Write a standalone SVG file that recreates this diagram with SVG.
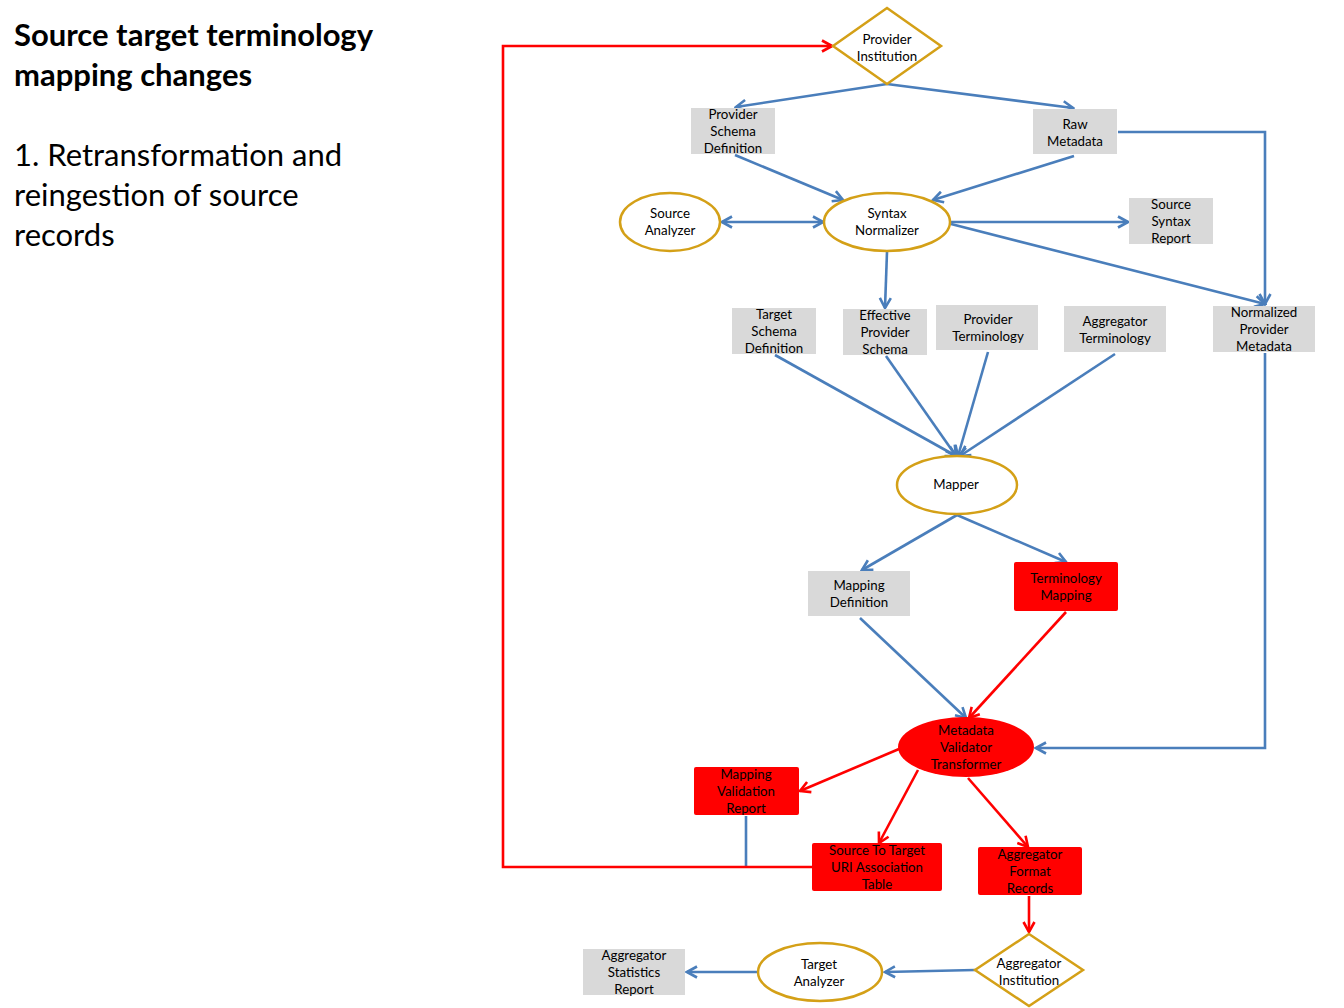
<svg xmlns="http://www.w3.org/2000/svg" width="1344" height="1008" viewBox="0 0 1344 1008">
<defs>
<marker id="ab" viewBox="0 0 14 14" refX="12" refY="7" markerWidth="14" markerHeight="14" markerUnits="userSpaceOnUse" orient="auto-start-reverse">
<path d="M2,1.5 L12,7 L2,12.5" fill="none" stroke="#4A7EBB" stroke-width="2.6"/>
</marker>
<marker id="ar" viewBox="0 0 14 14" refX="12" refY="7" markerWidth="14" markerHeight="14" markerUnits="userSpaceOnUse" orient="auto-start-reverse">
<path d="M2,1.5 L12,7 L2,12.5" fill="none" stroke="#FF0000" stroke-width="2.6"/>
</marker>
</defs>
<style>
.t{font-family:Lato,"Open Sans","Liberation Sans",sans-serif;font-size:13.3px;fill:#000;text-anchor:middle}
.g{fill:#D9D9D9}
.r{fill:#FF0000}
.o{fill:#fff;stroke:#D4A017;stroke-width:2.5}
.b{fill:none;stroke:#4A7EBB;stroke-width:2.6;marker-end:url(#ab)}
.bl{fill:none;stroke:#4A7EBB;stroke-width:2.6}
.rd{fill:none;stroke:#FF0000;stroke-width:2.6;marker-end:url(#ar)}
.h{font-family:Lato,"Open Sans","Liberation Sans",sans-serif;font-size:31px;fill:#000}
</style>
<rect width="1344" height="1008" fill="#fff"/>
<g id="title">
<text class="h" x="14" y="46" font-weight="bold">Source target terminology</text>
<text class="h" x="14" y="86" font-weight="bold">mapping changes</text>
<text class="h" x="14" y="166">1. Retransformation and</text>
<text class="h" x="14" y="206">reingestion of source</text>
<text class="h" x="14" y="246">records</text>
</g>
<g id="connectors">
<line class="b" x1="887" y1="84" x2="736" y2="107"/>
<line class="b" x1="887" y1="84" x2="1073" y2="108"/>
<line class="b" x1="735" y1="155" x2="843" y2="200"/>
<line class="b" x1="1074" y1="156" x2="933" y2="200"/>
<line class="b" x1="722" y1="222" x2="823" y2="222" marker-start="url(#ab)"/>
<line class="b" x1="951" y1="222" x2="1128" y2="222"/>
<line class="b" x1="951" y1="224" x2="1265" y2="304"/>
<polyline class="b" points="1118,132 1265,132 1265,304"/>
<line class="b" x1="887" y1="252" x2="885" y2="308"/>
<line class="b" x1="775" y1="355" x2="956" y2="456"/>
<line class="b" x1="886" y1="356" x2="956" y2="456"/>
<line class="b" x1="988" y1="352" x2="958" y2="456"/>
<line class="b" x1="1115" y1="354" x2="960" y2="456"/>
<line class="b" x1="957" y1="515" x2="862" y2="570"/>
<line class="b" x1="957" y1="515" x2="1066" y2="562"/>
<line class="b" x1="860" y1="618" x2="966" y2="718"/>
<line class="rd" x1="1066" y1="612" x2="969" y2="718"/>
<polyline class="b" points="1265,353 1265,748 1036,748"/>
<line class="rd" x1="899" y1="749" x2="800" y2="791"/>
<line class="rd" x1="918" y1="770" x2="879" y2="843"/>
<line class="rd" x1="968" y1="778" x2="1028" y2="847"/>
<line class="rd" x1="1029" y1="896" x2="1029" y2="932"/>
<line class="b" x1="975" y1="970" x2="885" y2="972"/>
<line class="b" x1="758" y1="972" x2="687" y2="972"/>
<line class="bl" x1="746" y1="816" x2="746" y2="867"/>
<polyline class="rd" points="812,867 503,867 503,46 832,46"/>
</g>
<g id="provider-institution">
<polygon class="o" points="887,8 941,46 887,84 833,46"/>
<text class="t" x="887" y="44">Provider</text>
<text class="t" x="887" y="61">Institution</text>
</g>
<g id="provider-schema-definition">
<rect class="g" x="691" y="108" width="84" height="46"/>
<text class="t" x="733" y="119">Provider</text>
<text class="t" x="733" y="136">Schema</text>
<text class="t" x="733" y="153">Definition</text>
</g>
<g id="raw-metadata">
<rect class="g" x="1033" y="109" width="84" height="45"/>
<text class="t" x="1075" y="129">Raw</text>
<text class="t" x="1075" y="146">Metadata</text>
</g>
<g id="source-analyzer">
<ellipse class="o" cx="670" cy="222" rx="50" ry="29"/>
<text class="t" x="670" y="218">Source</text>
<text class="t" x="670" y="235">Analyzer</text>
</g>
<g id="syntax-normalizer">
<ellipse class="o" cx="887" cy="222" rx="63" ry="29"/>
<text class="t" x="887" y="218">Syntax</text>
<text class="t" x="887" y="235">Normalizer</text>
</g>
<g id="source-syntax-report">
<rect class="g" x="1129" y="198" width="84" height="46"/>
<text class="t" x="1171" y="209">Source</text>
<text class="t" x="1171" y="226">Syntax</text>
<text class="t" x="1171" y="243">Report</text>
</g>
<g id="target-schema-definition">
<rect class="g" x="732" y="308" width="84" height="46"/>
<text class="t" x="774" y="319">Target</text>
<text class="t" x="774" y="336">Schema</text>
<text class="t" x="774" y="353">Definition</text>
</g>
<g id="effective-provider-schema">
<rect class="g" x="843" y="309" width="84" height="46"/>
<text class="t" x="885" y="320">Effective</text>
<text class="t" x="885" y="337">Provider</text>
<text class="t" x="885" y="354">Schema</text>
</g>
<g id="provider-terminology">
<rect class="g" x="936" y="305" width="102" height="45"/>
<text class="t" x="988" y="324">Provider</text>
<text class="t" x="988" y="341">Terminology</text>
</g>
<g id="aggregator-terminology">
<rect class="g" x="1064" y="306" width="102" height="46"/>
<text class="t" x="1115" y="326">Aggregator</text>
<text class="t" x="1115" y="343">Terminology</text>
</g>
<g id="normalized-provider-metadata">
<rect class="g" x="1213" y="306" width="102" height="46"/>
<text class="t" x="1264" y="317">Normalized</text>
<text class="t" x="1264" y="334">Provider</text>
<text class="t" x="1264" y="351">Metadata</text>
</g>
<g id="mapper">
<ellipse class="o" cx="957" cy="485" rx="60" ry="29"/>
<text class="t" x="956" y="489">Mapper</text>
</g>
<g id="mapping-definition">
<rect class="g" x="808" y="571" width="102" height="45"/>
<text class="t" x="859" y="590">Mapping</text>
<text class="t" x="859" y="607">Definition</text>
</g>
<g id="terminology-mapping">
<rect class="r" x="1014" y="562" width="104" height="49" rx="2"/>
<text class="t" x="1066" y="583">Terminology</text>
<text class="t" x="1066" y="600">Mapping</text>
</g>
<g id="metadata-validator-transformer">
<ellipse class="r" cx="966" cy="747" rx="68" ry="30"/>
<text class="t" x="966" y="735">Metadata</text>
<text class="t" x="966" y="752">Validator</text>
<text class="t" x="966" y="769">Transformer</text>
</g>
<g id="mapping-validation-report">
<rect class="r" x="694" y="767" width="105" height="48" rx="2"/>
<text class="t" x="746" y="779">Mapping</text>
<text class="t" x="746" y="796">Validation</text>
<text class="t" x="746" y="813">Report</text>
</g>
<g id="source-to-target">
<rect class="r" x="812" y="843" width="130" height="48" rx="2"/>
<text class="t" x="877" y="855">Source To Target</text>
<text class="t" x="877" y="872">URI Association</text>
<text class="t" x="877" y="889">Table</text>
</g>
<g id="aggregator-format-records">
<rect class="r" x="978" y="847" width="104" height="48" rx="2"/>
<text class="t" x="1030" y="859">Aggregator</text>
<text class="t" x="1030" y="876">Format</text>
<text class="t" x="1030" y="893">Records</text>
</g>
<g id="aggregator-institution">
<polygon class="o" points="1029,934 1083,970 1029,1006 975,970"/>
<text class="t" x="1029" y="968">Aggregator</text>
<text class="t" x="1029" y="985">Institution</text>
</g>
<g id="target-analyzer">
<ellipse class="o" cx="820" cy="972" rx="62" ry="29"/>
<text class="t" x="819" y="969">Target</text>
<text class="t" x="819" y="986">Analyzer</text>
</g>
<g id="aggregator-statistics-report">
<rect class="g" x="583" y="949" width="102" height="46"/>
<text class="t" x="634" y="960">Aggregator</text>
<text class="t" x="634" y="977">Statistics</text>
<text class="t" x="634" y="994">Report</text>
</g>
</svg>
